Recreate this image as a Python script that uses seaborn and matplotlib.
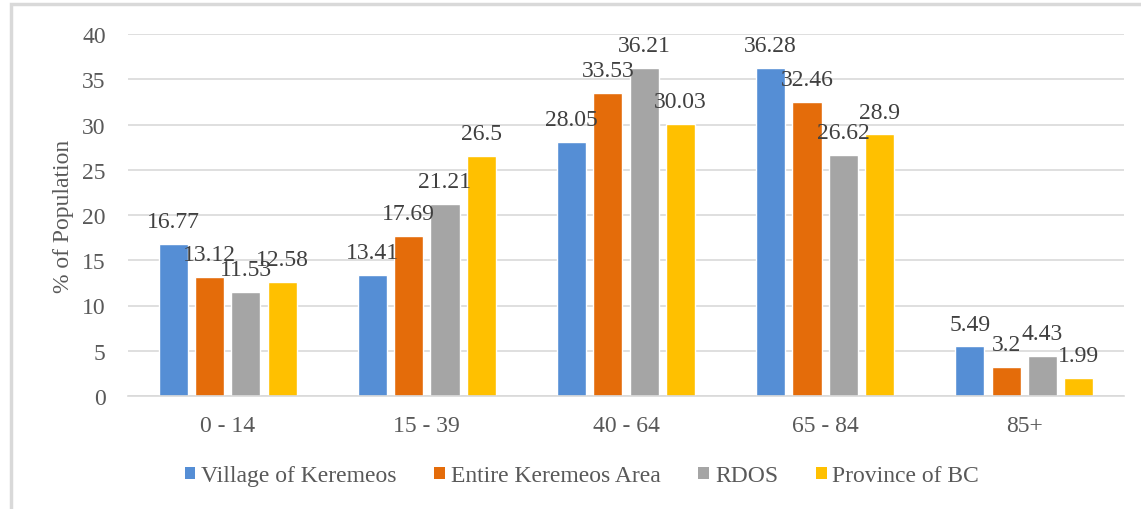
import matplotlib
matplotlib.use("Agg")
import matplotlib.pyplot as plt
import seaborn as sns
import pandas as pd
from matplotlib.patches import Patch, Rectangle

# ---- data ----
age_groups = ["0 - 14", "15 - 39", "40 - 64", "65 - 84", "85+"]
series_names = ["Village of Keremeos", "Entire Keremeos Area", "RDOS", "Province of BC"]
village = [16.77, 13.41, 28.05, 36.28, 5.49]
entire_area = [13.12, 17.69, 33.53, 32.46, 3.2]
rdos = [11.53, 21.21, 36.21, 26.62, 4.43]
province = [12.58, 26.5, 30.03, 28.9, 1.99]
y_ticks = [0, 5, 10, 15, 20, 25, 30, 35, 40]
y_label = "% of Population"

colors = ["#558ED5", "#E46C0A", "#A5A5A5", "#FFC000"]

rows = []
for name, vals in zip(series_names, [village, entire_area, rdos, province]):
    for g, v in zip(age_groups, vals):
        rows.append({"Age": g, "Series": name, "Value": v})
df = pd.DataFrame(rows)

sns.set_theme(style="white")
plt.rcParams["font.family"] = ["Liberation Serif", "DejaVu Serif"]
text_color = "#595959"
fs = 17

fig = plt.figure(figsize=(11.41, 5.10), dpi=100)
ax = fig.add_axes([128 / 1141, 1 - 397 / 510, (1124 - 128) / 1141, (397 - 35) / 510])

sns.barplot(data=df, x="Age", y="Value", hue="Series", order=age_groups,
            hue_order=series_names, palette=colors, width=0.73, gap=0.2,
            saturation=1, ax=ax, legend=False, errorbar=None)

for cont in ax.containers:
    ax.bar_label(cont, labels=[f"{v:g}" for v in cont.datavalues],
                 padding=8.5, fontsize=fs, color="#404040")

ax.set_ylim(0, 40)
ax.set_xlim(-0.5, len(age_groups) - 0.5)
ax.set_yticks(y_ticks)
ax.set_yticklabels([str(t) for t in y_ticks])
ax.yaxis.grid(True, color="#D9D9D9", linewidth=1.2)
ax.set_axisbelow(True)
for s in ["top", "right", "left"]:
    ax.spines[s].set_visible(False)
ax.spines["bottom"].set_color("#D9D9D9")
ax.spines["bottom"].set_linewidth(1.2)

ax.tick_params(axis="y", length=0, pad=16, labelsize=fs, labelcolor=text_color)
ax.tick_params(axis="x", which="major", length=0, pad=14, labelsize=fs, labelcolor=text_color)
ax.set_xticks([i - 0.5 for i in range(len(age_groups) + 1)], minor=True)
ax.tick_params(axis="x", which="minor", length=7, width=1.2, color="#D9D9D9")

ax.set_xlabel("")
ax.set_ylabel(y_label, fontsize=fs, color=text_color, labelpad=6)

handles = [Patch(facecolor=c, edgecolor="none") for c in colors]
leg = fig.legend(handles, series_names, loc="center", bbox_to_anchor=(0.51, 1 - 477 / 510),
                 ncol=4, frameon=False, fontsize=fs, handlelength=0.45, handleheight=0.45,
                 handletextpad=0.25, columnspacing=1.6)
for t in leg.get_texts():
    t.set_color(text_color)

# outer chart border
fig.patches.append(Rectangle((11 / 1141, -0.05), 1.2, 1 - 5 / 510 + 0.05,
                             transform=fig.transFigure, fill=False,
                             edgecolor="#D9D9D9", linewidth=2.5))

fig.savefig("out.png", dpi=100)
